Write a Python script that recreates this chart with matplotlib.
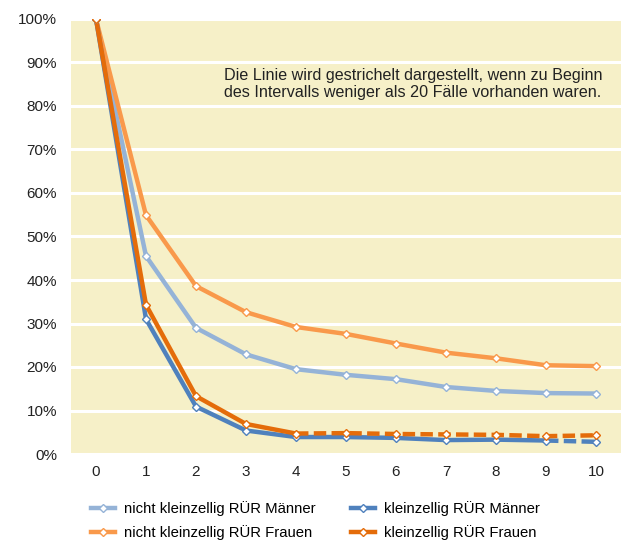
import matplotlib.pyplot as plt
from matplotlib.ticker import FuncFormatter

plt.rcParams['font.family'] = ['Liberation Sans', 'DejaVu Sans']

jahre = [0, 1, 2, 3, 4, 5, 6, 7, 8, 9, 10]
nkz_maenner = [100, 45.5, 29.0, 22.9, 19.5, 18.2, 17.2, 15.4, 14.5, 14.0, 13.9]
nkz_frauen = [100, 54.9, 38.6, 32.6, 29.2, 27.6, 25.4, 23.3, 22.0, 20.4, 20.2]
kz_maenner = [100, 31.0, 10.9, 5.4, 3.9, 3.9, 3.7, 3.2, 3.3, 3.1, 2.8]
kz_frauen = [100, 34.3, 13.3, 6.9, 4.7, 4.8, 4.6, 4.5, 4.4, 4.1, 4.3]
# index from which the line is dashed (fewer than 20 cases)
dash_ab = {'nkz_m': None, 'nkz_f': None, 'kz_m': 9, 'kz_f': 4}

labels = ['nicht kleinzellig RÜR Männer', 'nicht kleinzellig RÜR Frauen',
          'kleinzellig RÜR Männer', 'kleinzellig RÜR Frauen']
colors = ['#95B3D7', '#F9994B', '#4F81BD', '#E46C0A']

fig = plt.figure(figsize=(6.32, 5.44), dpi=100)
ax = fig.add_axes([71 / 632, 90 / 544, 550 / 632, 435 / 544])
ax.set_facecolor('#F6F0C8')

series = [(nkz_maenner, 'nkz_m'), (nkz_frauen, 'nkz_f'),
          (kz_maenner, 'kz_m'), (kz_frauen, 'kz_f')]
handles = []
for (vals, key), lab, col in zip(series, labels, colors):
    k = dash_ab[key]
    if k is None:
        k = len(vals) - 1
    ax.plot(jahre[:k + 1], vals[:k + 1], color=col, lw=3.2, zorder=3,
            solid_capstyle='round')
    if k < len(vals) - 1:
        ax.plot(jahre[k:], vals[k:], color=col, lw=3.2, ls=(0, (2.8, 1.2)), zorder=3)
    ax.plot(jahre, vals, ls='none', marker='D', ms=4, mfc='white', mec=col,
            mew=1, zorder=4)
    h, = ax.plot([], [], color=col, lw=3.2, marker='D', ms=4, mfc='white',
                 mec=col, mew=1, label=lab)
    handles.append(h)

ax.set_xlim(-0.5, 10.5)
ax.set_ylim(0, 100)
ax.set_xticks(jahre)
ax.set_yticks(range(0, 101, 10))
ax.yaxis.set_major_formatter(FuncFormatter(lambda v, p: f'{int(v)}%'))
ax.grid(axis='y', color='white', lw=2.2, zorder=1)
ax.set_axisbelow(True)
for s in ax.spines.values():
    s.set_visible(False)
ax.tick_params(length=0, labelsize=11, colors='#222222', pad=10)
ax.tick_params(axis='x', pad=8)

ax.text(0.278, 0.85,
        'Die Linie wird gestrichelt dargestellt, wenn zu Beginn\n'
        'des Intervalls weniger als 20 Fälle vorhanden waren.',
        transform=ax.transAxes, ha='left', va='center', fontsize=11.6,
        color='#222222', linespacing=1.15)

fig.legend(handles=handles, loc='upper left',
           bbox_to_anchor=(78 / 632, 1 - 488 / 544),
           ncol=2, frameon=False, fontsize=10.7, handlelength=1.6,
           columnspacing=2.4, handletextpad=0.6, labelspacing=0.58)

fig.savefig('out.png', dpi=100)
